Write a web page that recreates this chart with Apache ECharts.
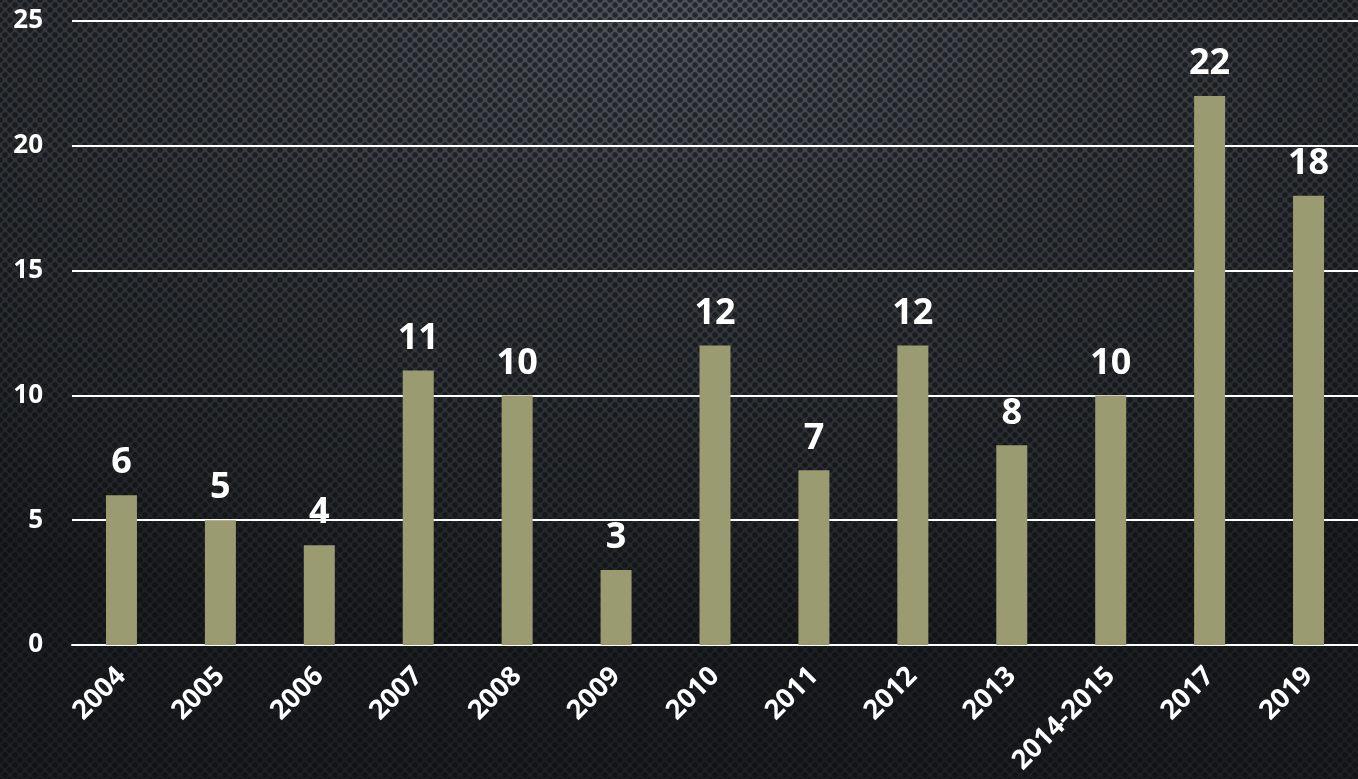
<!DOCTYPE html>
<html>
<head>
<meta charset="utf-8">
<script src="https://cdn.jsdelivr.net/npm/echarts@6/dist/echarts.min.js"></script>
<style>
  html, body { margin: 0; padding: 0; }
  body {
    width: 1358px; height: 779px; overflow: hidden;
    background-color: #25282c;
    background-image:
      radial-gradient(circle, rgba(10,12,14,0.6) 2.4px, transparent 3.2px),
      radial-gradient(circle, rgba(10,12,14,0.6) 2.4px, transparent 3.2px),
      radial-gradient(ellipse 90% 85% at 50% 0%, #50545c 0%, #363a3f 45%, #1c1e21 100%);
    background-size: 10px 10px, 10px 10px, 100% 100%;
    background-position: 0 0, 5px 5px, 0 0;
  }
  #chart { width: 1358px; height: 779px; }
</style>
</head>
<body>
<div id="chart"></div>
<script>
// categories and values
var years = ['2004', '2005', '2006', '2007', '2008', '2009', '2010', '2011', '2012', '2013', '2014-2015', '2017', '2019'];
var counts = [6, 5, 4, 11, 10, 3, 12, 7, 12, 8, 10, 22, 18];

var myChart = echarts.init(document.getElementById('chart'));

var font = '"Open Sans", "Lato", sans-serif';

var option = {
    backgroundColor: 'transparent',
    animation: false,
    grid: {
        left: 72,
        right: 0,
        top: 21,
        bottom: 134
    },
    xAxis: {
        type: 'category',
        data: years,
        axisLine: { lineStyle: { color: '#ffffff', width: 2 } },
        axisTick: { show: false },
        axisLabel: {
            rotate: 45,
            color: '#ffffff',
            fontFamily: font,
            fontWeight: 'bold',
            fontSize: 27,
            margin: 27,
            interval: 0
        }
    },
    yAxis: {
        type: 'value',
        min: 0,
        max: 25,
        interval: 5,
        axisLine: { show: false },
        axisTick: { show: false },
        splitLine: { lineStyle: { color: '#ffffff', width: 2 } },
        axisLabel: {
            color: '#ffffff',
            fontFamily: font,
            fontWeight: 'bold',
            fontSize: 26,
            margin: 29
        }
    },
    series: [
        {
            type: 'bar',
            data: counts,
            barWidth: 31,
            itemStyle: { color: '#9b9b71' },
            label: {
                show: true,
                position: 'top',
                distance: 14,
                color: '#ffffff',
                fontFamily: font,
                fontWeight: 'bold',
                fontSize: 36
            }
        }
    ]
};
myChart.setOption(option);
</script>
</body>
</html>
